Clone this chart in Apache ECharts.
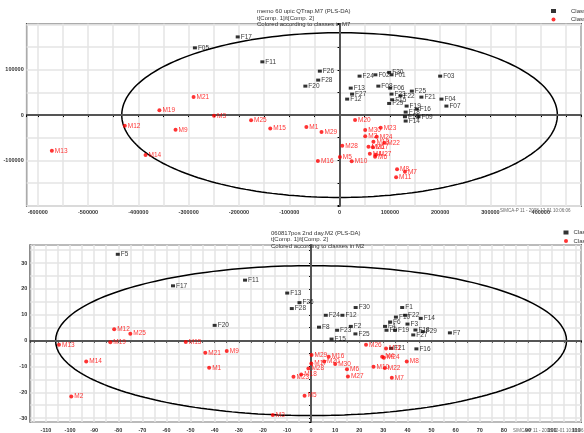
<!DOCTYPE html>
<html>
<head>
<meta charset="utf-8">
<script src="https://cdn.jsdelivr.net/npm/echarts@6/dist/echarts.min.js"></script>
<style>
  html, body { margin: 0; padding: 0; background: #fff; }
  #chart { width: 584px; height: 433px; }
</style>
</head>
<body>
<div id="chart"></div>
<script>
// score plot 1 (M7): [name, t1, t2]
var m7ClassF = [
  ['F17', -202500, 172800], ['F05', -287600, 148600], ['F11', -153500, 117700],
  ['F26', -39200, 97100], ['F28', -42500, 77300], ['F20', -68000, 64000],
  ['F24', 39800, 86100], ['F02', 71200, 89000], ['F30', 98600, 94300],
  ['F01', 103300, 89000], ['F03', 200000, 86100], ['F13', 22200, 59600],
  ['F27', 24900, 46400], ['F12', 15100, 35300], ['F08', 77100, 64000],
  ['F06', 100600, 59600], ['F25', 143700, 53000], ['F23', 103300, 46400],
  ['F22', 121000, 42600], ['F21', 162700, 39700], ['F04', 202600, 35300],
  ['F15', 104500, 33800], ['F29', 98600, 25700], ['F19', 133300, 19900],
  ['F07', 212400, 19900], ['F16', 153500, 13200], ['F18', 131400, 6600],
  ['F10', 130000, -3700], ['F09', 156900, -3700], ['F14', 131400, -13200]
];
var m7ClassM = [
  ['M21', -290200, 39700], ['M19', -358200, 10400], ['M3', -249600, -1500],
  ['M25', -175900, -11700], ['M15', -137800, -29400], ['M12', -426900, -23600],
  ['M9', -326100, -32500], ['M13', -572000, -78800], ['M14', -385700, -88300],
  ['M1', -66000, -26500], ['M29', -35900, -37500], ['M16', -43100, -101500],
  ['M5', 600, -92700], ['M10', 24100, -102200], ['M20', 30800, -11000],
  ['M30', 51000, -33100], ['M23', 81800, -28000], ['M2', 51000, -47000],
  ['M24', 73900, -47900], ['M28', 5300, -67800], ['M18', 67300, -58900],
  ['M22', 88800, -61100], ['M26', 57500, -70000], ['M17', 66100, -71300],
  ['M4', 60200, -85400], ['M27', 72000, -87600], ['M6', 70600, -92100],
  ['M8', 114300, -119900], ['M7', 130000, -125200], ['M11', 112400, -137500]
];
// score plot 2 (M2)
var m2ClassF = [
  ['F5', -80.2, 33.4], ['F17', -57.3, 21.2], ['F11', -27.4, 23.4],
  ['F13', -9.9, 18.4], ['F26', -4.8, 14.7], ['F28', -8, 12.4],
  ['F20', -40, 5.9], ['F30', 18.5, 12.8], ['F1', 37.8, 12.8],
  ['F24', 6.1, 9.8], ['F12', 13, 9.8], ['F10', 35.2, 9.1],
  ['F22', 39, 9.8], ['F14', 45.5, 8.6], ['F6', 32.8, 7.2],
  ['F3', 40, 6.4], ['F8', 3.3, 5.2], ['F2', 16.5, 5.5],
  ['F4', 30.7, 5.5], ['F23', 10.8, 4.0], ['F9', 31.3, 4.0],
  ['F19', 34.8, 4.0], ['F18', 43.3, 4.1], ['F29', 46.3, 3.5],
  ['F25', 18.4, 2.6], ['F27', 42.4, 2.2], ['F7', 57.6, 3.0],
  ['F15', 8.5, 0.6], ['F21', 33.2, -3.0], ['F16', 43.7, -3.2]
];
var m2ClassM = [
  ['M12', -81.7, 4.4], ['M25', -75, 2.7], ['M13', -104.6, -1.6],
  ['M19', -83.3, -0.6], ['M15', -52, -0.5], ['M21', -43.9, -4.7],
  ['M9', -35, -4.0], ['M14', -93.3, -8.1], ['M1', -42.3, -10.5],
  ['M2', -99.5, -21.6], ['M3', -15.9, -28.8], ['M26', 22.8, -1.6],
  ['M11', 31.1, -3.1], ['M29', 0.2, -5.6], ['M16', 7.3, -6.2],
  ['M17', 0.1, -8.9], ['M20', 5.4, -8.1], ['M30', 10, -9.1],
  ['M28', -1.1, -10.8], ['M18', -4.1, -13.1], ['M23', -7.3, -14],
  ['M6', 14.9, -11.1], ['M27', 15.3, -13.9], ['M10', 25.9, -10.1],
  ['M22', 30.6, -10.6], ['M7', 33.5, -14.4], ['M8', 39.7, -8.1],
  ['M4', 29.5, -6.2], ['M24', 30.2, -6.6], ['M5', -2.7, -21.3]
];
// Hotelling T2 ellipse semi-axes
var m7Ellipse = [433000, 182000];
var m2Ellipse = [106, 29];

var font = 'Liberation Sans, Arial, sans-serif';

function ellipsePts(ab) {
  var pts = [];
  for (var i = 0; i <= 240; i++) {
    var t = i / 240 * Math.PI * 2;
    pts.push([ab[0] * Math.cos(t), ab[1] * Math.sin(t)]);
  }
  return pts;
}

function toItems(arr) {
  return arr.map(function (d) { return { name: d[0], value: [d[1], d[2]] }; });
}

function scatter(name, arr, idx, color, symbol, size) {
  return {
    name: name,
    type: 'scatter',
    xAxisIndex: idx, yAxisIndex: idx,
    symbol: symbol, symbolSize: size,
    itemStyle: { color: color },
    z: 5,
    label: {
      show: true, position: 'right', distance: 1, formatter: '{b}',
      color: color, fontSize: 6.5, fontFamily: font
    },
    data: toItems(arr)
  };
}

function ellipse(ab, idx) {
  return {
    type: 'line',
    xAxisIndex: idx, yAxisIndex: idx,
    data: ellipsePts(ab),
    showSymbol: false, silent: true,
    lineStyle: { color: '#000', width: 1.5 },
    z: 3,
    markLine: {
      silent: true, symbol: 'none', label: { show: false },
      lineStyle: { color: '#555', width: 2, type: 'solid' },
      data: [{ xAxis: 0 }, { yAxis: 0 }]
    }
  };
}

function axis(idx, min, max, step, fmt, margin) {
  return {
    type: 'value', gridIndex: idx, min: min, max: max,
    minInterval: step, maxInterval: step, splitNumber: 30,
    axisLine: { show: true, lineStyle: { color: '#000', width: 1.5 } },
    axisTick: { show: true, length: 2, lineStyle: { color: '#000' } },
    axisLabel: {
      margin: margin, fontSize: 5.5, fontWeight: 'bold', color: '#333', fontFamily: font,
      formatter: fmt
    },
    splitLine: { show: true, lineStyle: { color: '#e4e4e4', width: 1.5 } }
  };
}

var chart = echarts.init(document.getElementById('chart'));
chart.setOption({
  animation: false,
  title: [
    { text: 'memo 60 upic QTrap.M7 (PLS-DA)\nt[Comp. 1]/t[Comp. 2]\nColored according to classes in M7',
      left: 252, top: 3, textStyle: { fontSize: 6, lineHeight: 6.6, color: '#333', fontWeight: 'normal', fontFamily: font } },
    { text: '060817pos 2nd day.M2 (PLS-DA)\nt[Comp. 1]/t[Comp. 2]\nColored according to classes in M2',
      left: 266, top: 225, textStyle: { fontSize: 6, lineHeight: 6.4, color: '#333', fontWeight: 'normal', fontFamily: font } }
  ],
  legend: [
    { data: ['Class 1', 'Class 2'], orient: 'vertical', left: 546, top: 3,
      itemWidth: 5, itemHeight: 4, itemGap: 2.5,
      textStyle: { fontSize: 6, color: '#333', fontFamily: font, padding: [0, 0, 0, 10] } },
    { data: ['Class 1', 'Class 2'], orient: 'vertical', left: 558.5, top: 224.5,
      itemWidth: 5, itemHeight: 4, itemGap: 2.5,
      textStyle: { fontSize: 6, color: '#333', fontFamily: font } }
  ],
  grid: [
    { left: 26.7, top: 23.7, width: 562, height: 182.3, show: true, borderColor: '#000', borderWidth: 1.5 },
    { left: 30.3, top: 245, width: 562, height: 179.3, show: true, borderColor: '#000', borderWidth: 1.5 }
  ],
  xAxis: [
    axis(0, -622000, 480000, 50000, function (v) { return v % 100000 === 0 ? String(v) : ''; }, 3),
    axis(1, -116.5, 112, 5, function (v) { return v % 10 === 0 ? String(v) : ''; }, 5)
  ],
  yAxis: [
    axis(0, -201000, 202000, 50000, function (v) { return (v % 100000 === 0 && Math.abs(v) <= 100000) ? String(v) : ''; }, 3),
    axis(1, -31.5, 37, 5, function (v) { return v % 10 === 0 ? String(v) : ''; }, 3)
  ],
  graphic: [
    { type: 'text', left: 500, top: 208, z: 10,
      style: { text: 'SIMCA-P 11 - 2008-12-01 10:06:06', fontSize: 4.5, fill: '#666', fontFamily: font } },
    { type: 'text', left: 513, top: 428, z: 10,
      style: { text: 'SIMCA-P 11 - 2008-12-01 10:08:46', fontSize: 4.5, fill: '#666', fontFamily: font } }
  ],
  series: [
    ellipse(m7Ellipse, 0),
    scatter('Class 1', m7ClassF, 0, '#000', 'rect', [4, 3]),
    scatter('Class 2', m7ClassM, 0, '#ff0000', 'circle', 4),
    ellipse(m2Ellipse, 1),
    scatter('Class 1', m2ClassF, 1, '#000', 'rect', [4, 3]),
    scatter('Class 2', m2ClassM, 1, '#ff0000', 'circle', 4)
  ]
});
</script>
</body>
</html>
